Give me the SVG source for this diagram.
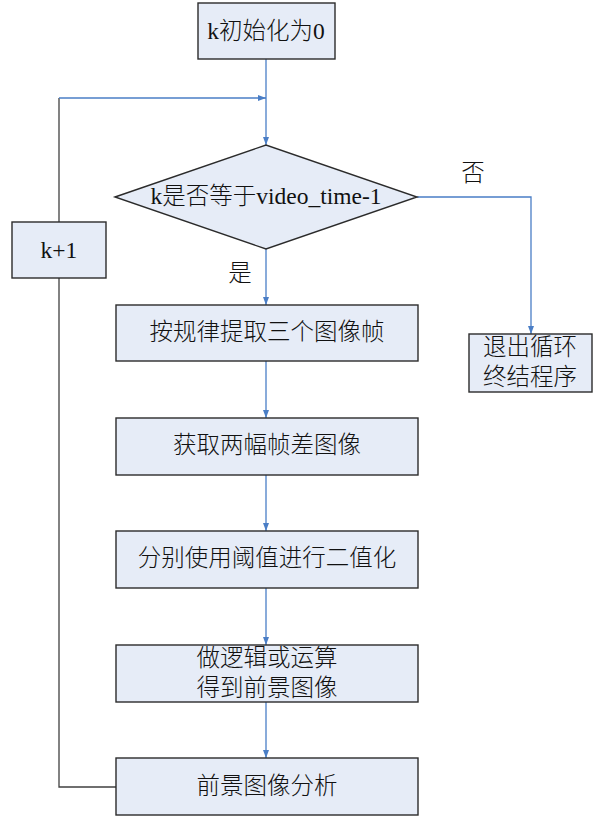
<svg xmlns="http://www.w3.org/2000/svg" width="609" height="819" viewBox="0 0 609 819">
<style>
.box{fill:#E6ECF7;stroke:#2b2b2b;stroke-width:1.4}
.t{font-family:"Liberation Serif","Noto Sans CJK SC",serif;font-size:23.5px;font-weight:300;fill:#111;text-anchor:middle;dominant-baseline:central}
.blue{fill:none;stroke:#4A7EC6;stroke-width:1.3}
.gray{fill:none;stroke:#404040;stroke-width:1.3}
</style>
<defs>
<marker id="ah" markerWidth="8" markerHeight="6" refX="8" refY="3" orient="auto" markerUnits="userSpaceOnUse">
<path d="M0,0 L8,3 L0,6 Z" fill="#4A7EC6"/>
</marker>
</defs>
<rect width="609" height="819" fill="#fff"/>
<g id="connectors">
<path class="blue" d="M266,59 V145" marker-end="url(#ah)"/>
<path class="gray" d="M59,222 V98"/>
<path class="blue" d="M59,98 H266" marker-end="url(#ah)"/>
<path class="blue" d="M266,249 V305" marker-end="url(#ah)"/>
<path class="blue" d="M417,197 H531 V334" marker-end="url(#ah)"/>
<path class="blue" d="M266,361 V418" marker-end="url(#ah)"/>
<path class="blue" d="M266,475 V531" marker-end="url(#ah)"/>
<path class="blue" d="M266,588 V645" marker-end="url(#ah)"/>
<path class="blue" d="M266,702 V758" marker-end="url(#ah)"/>
<path class="gray" d="M116,787 H59 V278"/>
<text class="t" x="473" y="173">否</text>
<text class="t" x="240" y="273">是</text>
</g>
<g id="init">
<rect class="box" x="198" y="3" width="137" height="56"/>
<text class="t" x="266" y="31">k初始化为0</text>
</g>
<g id="decision">
<polygon class="box" points="115,197 266,145 417,197 266,249"/>
<text class="t" x="266" y="196">k是否等于video_time-1</text>
</g>
<g id="inc">
<rect class="box" x="12" y="222" width="94" height="56"/>
<text class="t" x="59" y="250">k+1</text>
</g>
<g id="exit">
<rect class="box" x="469" y="334" width="123" height="58"/>
<text class="t" x="530" y="347">退出循环</text>
<text class="t" x="530" y="377">终结程序</text>
</g>
<g id="step1">
<rect class="box" x="116" y="305" width="302" height="56"/>
<text class="t" x="267" y="332">按规律提取三个图像帧</text>
</g>
<g id="step2">
<rect class="box" x="116" y="418" width="302" height="57"/>
<text class="t" x="267" y="445">获取两幅帧差图像</text>
</g>
<g id="step3">
<rect class="box" x="116" y="531" width="302" height="57"/>
<text class="t" x="267" y="558">分别使用阈值进行二值化</text>
</g>
<g id="step4">
<rect class="box" x="116" y="645" width="302" height="57"/>
<text class="t" x="267" y="658">做逻辑或运算</text>
<text class="t" x="267" y="688">得到前景图像</text>
</g>
<g id="step5">
<rect class="box" x="116" y="758" width="302" height="57"/>
<text class="t" x="267" y="786">前景图像分析</text>
</g>
</svg>
